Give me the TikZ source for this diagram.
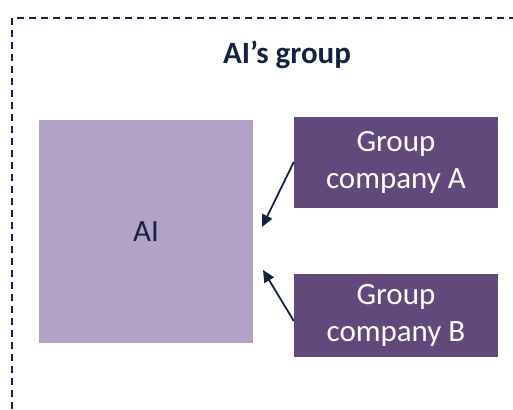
\documentclass[tikz,border=0pt]{standalone}
\usepackage{fontspec}
\setmainfont{Carlito}
\usepackage{xcolor}
\usepackage{tikz}
\usetikzlibrary{arrows.meta}

\definecolor{lightpurple}{HTML}{B3A2C8}
\definecolor{darkpurple}{HTML}{614A7B}
\definecolor{navy}{HTML}{14233F}

\tikzset{
  company/.style={rectangle, fill=darkpurple, text=white, align=center,
    minimum width=204pt, inner sep=0pt, font=\fontsize{31}{37}\selectfont},
  link/.style={-{Triangle[length=12pt,width=11pt]}, draw=navy, line width=1.8pt}
}

\begin{document}
\begin{tikzpicture}[x=1pt, y=-1pt]
        \useasboundingbox (0,0) rectangle (513,409);

        % Define the nodes
        \coordinate (bl) at (12,409);
        \coordinate (tl) at (12,18);
        \coordinate (tr) at (513,18);
        \node[font=\bfseries\fontsize{31}{37}\selectfont, text=navy] (title) at (287,55) {AI’s group};
        \node[rectangle, fill=lightpurple, text=navy, minimum width=214pt, minimum height=223pt,
              font=\fontsize{31}{37}\selectfont] (ai) at (146,231.5) {AI};
        \node[company, minimum height=91pt] (a) at (396,162.5) {Group\\company A};
        \node[company, minimum height=83pt] (b) at (396,315.5) {Group\\company B};
        \coordinate (ina) at (262,227);
        \coordinate (inb) at (263,270);

        % Draw the border and the arrows
        \draw[navy, line width=1.2pt, dash pattern=on 7pt off 5pt] (bl) -- (tl) -- (tr);
        \draw[link] ([yshift=0.5pt]a.west) -- (ina);
        \draw[link] ([yshift=-5.5pt]b.west) -- (inb);
    \end{tikzpicture}
\end{document}
